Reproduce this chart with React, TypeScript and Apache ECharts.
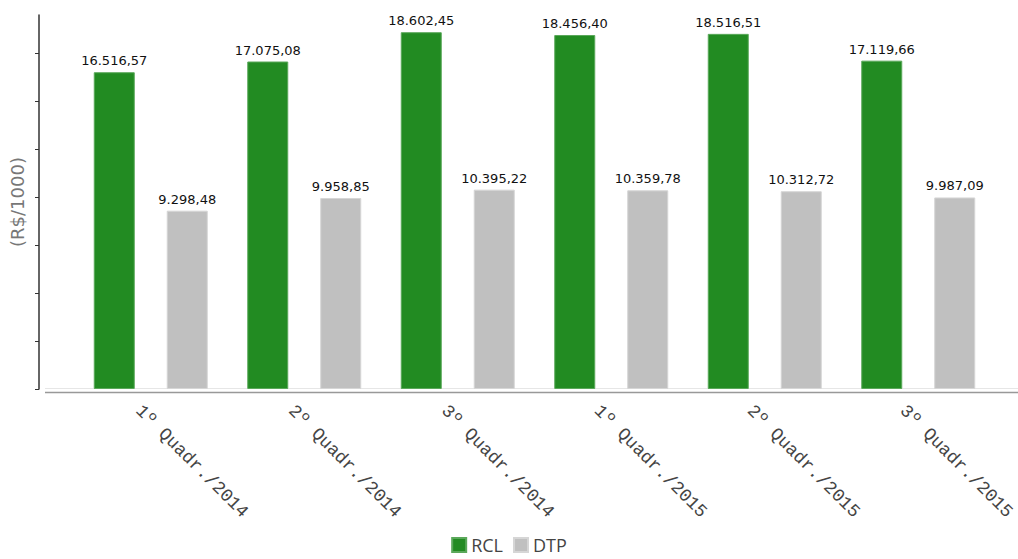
import React, { useEffect, useRef } from "react";
import * as echarts from "echarts";

const categories = [
  "1º Quadr./2014",
  "2º Quadr./2014",
  "3º Quadr./2014",
  "1º Quadr./2015",
  "2º Quadr./2015",
  "3º Quadr./2015",
];
const rclValues = [16516.57, 17075.08, 18602.45, 18456.4, 18516.51, 17119.66];
const dtpValues = [9298.48, 9958.85, 10395.22, 10359.78, 10312.72, 9987.09];
const yTickValues = [0, 2500, 5000, 7500, 10000, 12500, 15000, 17500];
const yMax = 19500;

function fmtBR(v: number): string {
  const fixed = v.toFixed(2);
  const [intPart, dec] = fixed.split(".");
  const withDots = intPart.replace(/\B(?=(\d{3})+(?!\d))/g, ".");
  return withDots + "," + dec;
}

export default function App() {
  const ref = useRef<HTMLDivElement>(null);
  useEffect(() => {
    if (!ref.current) return;
    const chart = echarts.init(ref.current, null, { renderer: "svg" });
    const labelStyle = {
      show: true,
      position: "top" as const,
      distance: 5,
      color: "#111",
      fontFamily: "DejaVu Sans",
      fontSize: 13,
      formatter: (p: any) => fmtBR(p.value),
    };
    chart.setOption({
      animation: false,
      grid: [
        { left: 74, right: 23, top: 15, bottom: 170 },
        { left: 62, right: 35, top: 15, bottom: 170 },
      ],
      legend: {
        bottom: 0,
        left: "center",
        itemWidth: 14,
        itemHeight: 14,
        itemGap: 10,
        icon: "rect",
        textStyle: { fontFamily: "Open Sans", fontSize: 18, color: "#444" },
        data: ["RCL", "DTP"],
      },
      xAxis: [
        {
          type: "category",
          gridIndex: 0,
          data: categories,
          axisLine: { show: false },
          axisTick: { show: false },
          axisLabel: { show: false },
        },
        {
          type: "category",
          gridIndex: 1,
          data: categories,
          offset: 3,
          axisLine: { show: false },
          axisTick: { show: false },
          axisLabel: {
            rotate: -45,
            margin: 16,
            color: "#444",
            fontFamily: "Liberation Mono",
            fontSize: 18,
            interval: 0,
          },
        },
      ],
      yAxis: [
        {
          type: "value",
          gridIndex: 0,
          min: 0,
          max: yMax,
          offset: 35,
          name: "(R$/1000)",
          nameLocation: "middle",
          nameGap: 13,
          nameTextStyle: {
            fontFamily: "DejaVu Sans",
            fontSize: 18,
            color: "#777",
          },
          axisLine: { show: true, lineStyle: { color: "#333", width: 1.5 } },
          axisTick: {
            show: true,
            length: 4,
            customValues: yTickValues,
            lineStyle: { color: "#333" },
          },
          axisLabel: { show: false },
          splitLine: { show: false },
        },
        {
          type: "value",
          gridIndex: 1,
          show: false,
          min: 0,
          max: yMax,
        },
      ],
      graphic: [
        {
          type: "line",
          shape: { x1: 45, y1: 388.5, x2: 1018, y2: 388.5 },
          style: { stroke: "#e6e6e6", lineWidth: 1 },
          silent: true,
        },
        {
          type: "line",
          shape: { x1: 45, y1: 392.5, x2: 1018, y2: 392.5 },
          style: { stroke: "#999", lineWidth: 1.5 },
          silent: true,
        },
      ],
      series: [
        {
          name: "RCL",
          type: "bar",
          xAxisIndex: 0,
          yAxisIndex: 0,
          data: rclValues,
          barWidth: 41,
          barGap: "78%",
          itemStyle: { color: "#228B22", borderColor: "#5aa85a", borderWidth: 1 },
          label: labelStyle,
        },
        {
          name: "DTP",
          type: "bar",
          xAxisIndex: 0,
          yAxisIndex: 0,
          data: dtpValues,
          barWidth: 41,
          barGap: "78%",
          itemStyle: { color: "#C0C0C0", borderColor: "#d6d6d6", borderWidth: 1 },
          label: labelStyle,
        },
      ],
    });
    return () => chart.dispose();
  }, []);
  return <div ref={ref} style={{ width: 1018, height: 559, position: "absolute", left: 0, top: 0 }} />;
}
